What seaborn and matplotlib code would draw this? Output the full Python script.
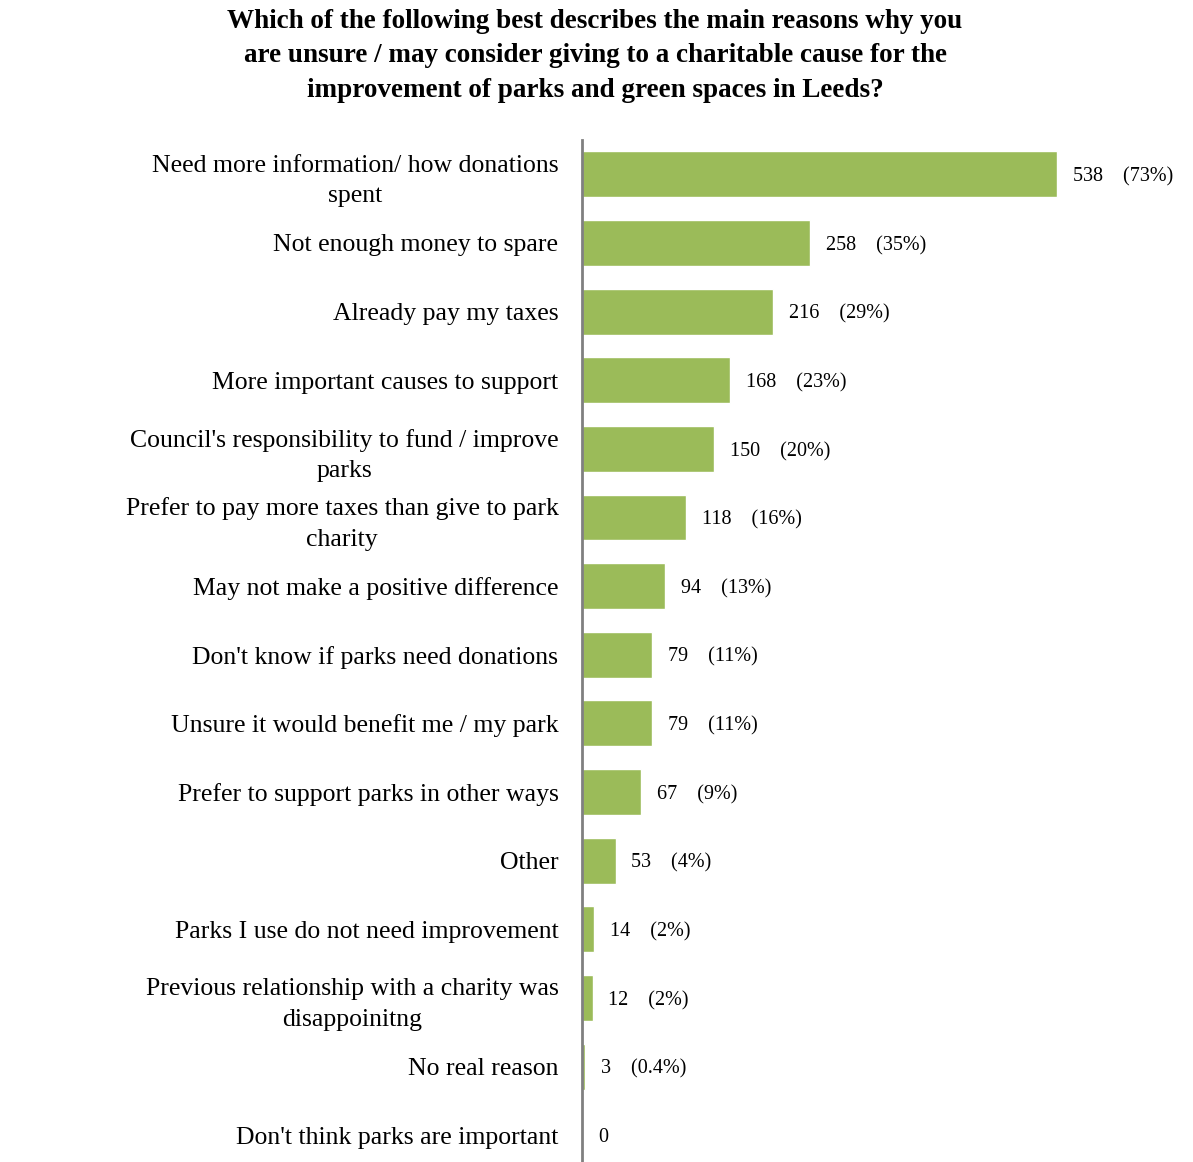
import matplotlib
matplotlib.use("Agg")
import matplotlib.pyplot as plt
import seaborn as sns
import pandas as pd

categories = [
    "Need more information/ how donations\nspent",
    "Not enough money to spare",
    "Already pay my taxes",
    "More important causes to support",
    "Council's responsibility to fund / improve\nparks",
    "Prefer to pay more taxes than give to park\ncharity",
    "May not make a positive difference",
    "Don't know if parks need donations",
    "Unsure it would benefit me / my park",
    "Prefer to support parks in other ways",
    "Other",
    "Parks I use do not need improvement",
    "Previous relationship with a charity was\ndisappoinitng",
    "No real reason",
    "Don't think parks are important",
]
# bar lengths as drawn in the picture
bar_values = [538, 258, 216, 168, 150, 118, 94, 79, 79, 67, 38, 14, 12, 3, 0]
# value labels as printed
counts = [538, 258, 216, 168, 150, 118, 94, 79, 79, 67, 53, 14, 12, 3, 0]
percents = ["73%", "35%", "29%", "23%", "20%", "16%", "13%", "11%", "11%",
            "9%", "4%", "2%", "2%", "0.4%", ""]

title = ("Which of the following best describes the main reasons why you\n"
         "are unsure / may consider giving to a charitable cause for the\n"
         "improvement of parks and green spaces in Leeds?")

sns.set_theme(style="white")
plt.rcParams["font.family"] = ["Liberation Serif", "DejaVu Serif"]
plt.rcParams["text.color"] = "black"

df = pd.DataFrame({"reason": categories, "value": bar_values})

W, H = 1193, 1162
fig = plt.figure(figsize=(W / 100, H / 100), dpi=100)
ax = fig.add_axes([582 / W, 0, (W - 582) / W, (H - 140) / H])

sns.barplot(data=df, x="value", y="reason", orient="h", color="#9BBB59",
            saturation=1, width=0.67, ax=ax)

ax.set_xlim(0, 692)
ax.set_ylim(14.39, -0.5)
ax.set_xlabel("")
ax.set_ylabel("")
ax.set_xticks([])
for s in ["top", "right", "bottom"]:
    ax.spines[s].set_visible(False)
ax.spines["left"].set_color("#808080")
ax.spines["left"].set_linewidth(2)
ax.tick_params(axis="y", length=0, pad=17, labelsize=18.5, colors="black")
for lab in ax.get_yticklabels():
    lab.set_multialignment("center")
    lab.set_linespacing(1.5)

for i, (v, c, p) in enumerate(zip(bar_values, counts, percents)):
    txt = f"{c}    ({p})" if p else f"{c}"
    ax.text(v + 18, i, txt, va="center_baseline", ha="left", fontsize=14.5,
            color="black")

fig.text(595 / W, 1 - 56 / H, title, ha="center", va="center",
         fontsize=19.5, fontweight="bold", linespacing=1.5, color="black")

fig.savefig("out.png", dpi=100)
